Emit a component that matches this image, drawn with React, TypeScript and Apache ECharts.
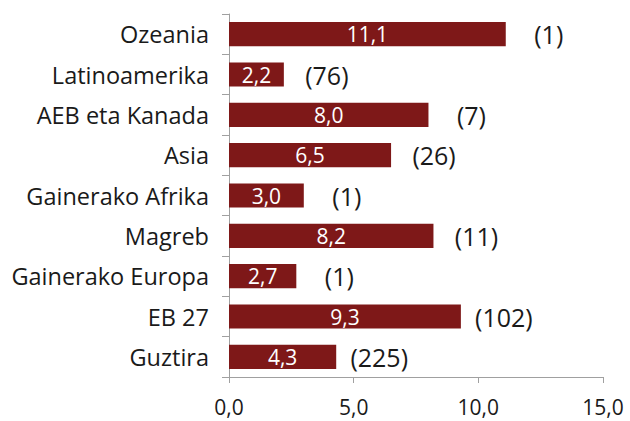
import React, { useEffect, useRef } from "react";
import * as echarts from "echarts";

const categories = [
  "Ozeania",
  "Latinoamerika",
  "AEB eta Kanada",
  "Asia",
  "Gainerako Afrika",
  "Magreb",
  "Gainerako Europa",
  "EB 27",
  "Guztira",
];
const values = [11.1, 2.2, 8.0, 6.5, 3.0, 8.2, 2.7, 9.3, 4.3];
const counts = [1, 76, 7, 26, 1, 11, 1, 102, 225];
const xTicks = [0, 5, 10, 15];

const fmt = (v: number) => v.toFixed(1).replace(".", ",");
const FONT = "'Open Sans', 'Noto Sans', sans-serif";
const BAR = "#7e1818";
const AXIS = "#a0a0a0";

export default function App() {
  const ref = useRef<HTMLDivElement>(null);
  useEffect(() => {
    if (!ref.current) return;
    const chart = echarts.init(ref.current, null, { renderer: "svg" });
    chart.setOption({
      animation: false,
      grid: { left: 229, right: 27, top: 14, bottom: 44 },
      xAxis: {
        type: "value",
        min: xTicks[0],
        max: xTicks[xTicks.length - 1],
        interval: 5,
        splitLine: { show: false },
        axisLine: { show: true, lineStyle: { color: AXIS, width: 1 } },
        axisTick: { show: true, length: 6, lineStyle: { color: AXIS } },
        axisLabel: {
          formatter: (v: number) => fmt(v),
          fontFamily: FONT,
          fontSize: 21,
          color: "#1a1a1a",
          margin: 19,
        },
      },
      yAxis: {
        type: "category",
        data: categories,
        inverse: true,
        axisLine: { show: true, lineStyle: { color: AXIS, width: 1 } },
        axisTick: { show: true, length: 7, lineStyle: { color: AXIS } },
        axisLabel: {
          fontFamily: FONT,
          fontSize: 23.5,
          color: "#1a1a1a",
          margin: 20,
        },
      },
      series: [
        {
          type: "bar",
          data: values,
          barWidth: "60%",
          itemStyle: { color: BAR },
          label: {
            show: true,
            position: "inside",
            formatter: (p: any) => fmt(p.value),
            color: "#ffffff",
            fontFamily: FONT,
            fontSize: 21,
          },
          z: 3,
        },
        {
          type: "bar",
          data: values,
          barWidth: "60%",
          barGap: "-100%",
          itemStyle: { color: "rgba(0,0,0,0)" },
          label: {
            show: true,
            position: "right",
            distance: 43,
            align: "center",
            formatter: (p: any) => "(" + counts[p.dataIndex] + ")",
            color: "#1a1a1a",
            fontFamily: FONT,
            fontSize: 25,
          },
          z: 2,
        },
      ],
    });
    return () => chart.dispose();
  }, []);
  return <div ref={ref} style={{ width: 630, height: 421, position: "absolute", left: 0, top: 0 }} />;
}
